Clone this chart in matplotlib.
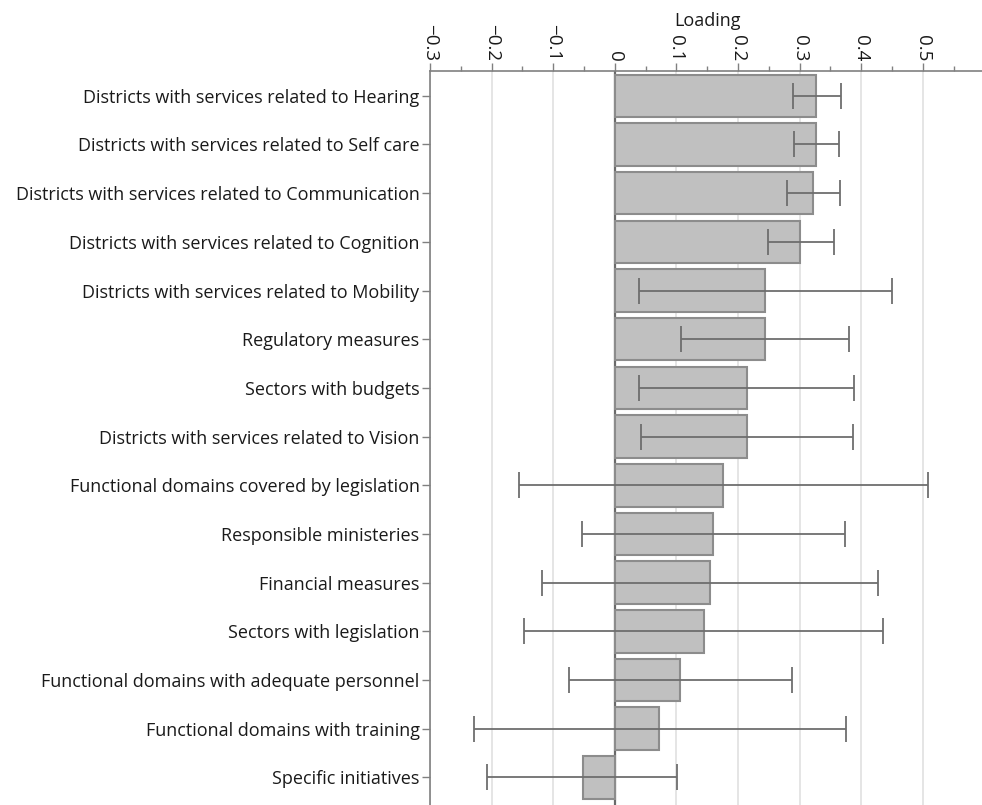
import numpy as np
import matplotlib
matplotlib.use("Agg")
import matplotlib.pyplot as plt
from matplotlib.ticker import MultipleLocator

plt.rcParams["font.family"] = ["Open Sans", "DejaVu Sans"]

# loadings with lower / upper interval limits, top row first
labels = [
    "Districts with services related to Hearing",
    "Districts with services related to Self care",
    "Districts with services related to Communication",
    "Districts with services related to Cognition",
    "Districts with services related to Mobility",
    "Regulatory measures",
    "Sectors with budgets",
    "Districts with services related to Vision",
    "Functional domains covered by legislation",
    "Responsible ministeries",
    "Financial measures",
    "Sectors with legislation",
    "Functional domains with adequate personnel",
    "Functional domains with training",
    "Specific initiatives",
]
loading = [0.327, 0.326, 0.321, 0.301, 0.244, 0.244, 0.214, 0.214,
           0.175, 0.159, 0.155, 0.144, 0.106, 0.072, -0.052]
lower = [0.289, 0.291, 0.279, 0.248, 0.039, 0.107, 0.039, 0.043,
         -0.155, -0.053, -0.118, -0.147, -0.074, -0.228, -0.208]
upper = [0.368, 0.364, 0.366, 0.356, 0.450, 0.381, 0.389, 0.386,
         0.508, 0.373, 0.428, 0.436, 0.288, 0.375, 0.101]

W, H = 982, 805
fig = plt.figure(figsize=(W / 100, H / 100), dpi=100)

x0, x1 = -0.3, 0.6
left_px, right_px = 430, 984.4
top_px = 71
ax = fig.add_axes([left_px / W, 0, (right_px - left_px) / W, 1 - top_px / H])

y = np.arange(len(labels))
vals = np.array(loading)
err = np.array([vals - np.array(lower), np.array(upper) - vals])

ax.axvline(0, color="#6a6a6a", lw=1.6, zorder=1)
ax.barh(y, vals, height=0.875, color="#c0c0c0", edgecolor="#8c8c8c",
        linewidth=1.5, zorder=2)
ax.errorbar(vals, y, xerr=err, fmt="none", ecolor="#6e6e6e", elinewidth=1.3,
            capsize=9.5, capthick=1.3, zorder=3)

ax.set_xlim(x0, x1)
ax.set_ylim(14.57, -0.51)

ax.xaxis.set_ticks_position("top")
ax.xaxis.set_label_position("top")
ax.xaxis.set_minor_locator(MultipleLocator(0.05))
ticks = np.round(np.arange(-0.3, 0.55, 0.1), 1)
ax.set_xticks(ticks)
ax.set_xticklabels(["0" if t == 0 else f"{t:g}".replace("-", "\u2212") for t in ticks],
                   rotation=-90)
ax.tick_params(axis="x", which="major", length=6, width=1, color="#808080",
               labelsize=13.5, pad=1, labelcolor="#1a1a1a")
ax.tick_params(axis="x", which="minor", length=3.5, width=1, color="#808080")
ax.set_xlabel("Loading", fontsize=13, labelpad=-1.5, color="#1a1a1a")

ax.set_yticks(y)
ax.set_yticklabels(labels)
ax.tick_params(axis="y", length=6, width=1, color="#808080", labelsize=13,
               pad=1.5, labelcolor="#1a1a1a")

ax.grid(axis="x", which="major", color="#e0e0e0", lw=1.2, zorder=0)
ax.set_axisbelow(True)

for side in ("right", "bottom"):
    ax.spines[side].set_visible(False)
for side in ("left", "top"):
    ax.spines[side].set_color("#808080")
    ax.spines[side].set_linewidth(1.2)

fig.savefig("out.png", dpi=100)
